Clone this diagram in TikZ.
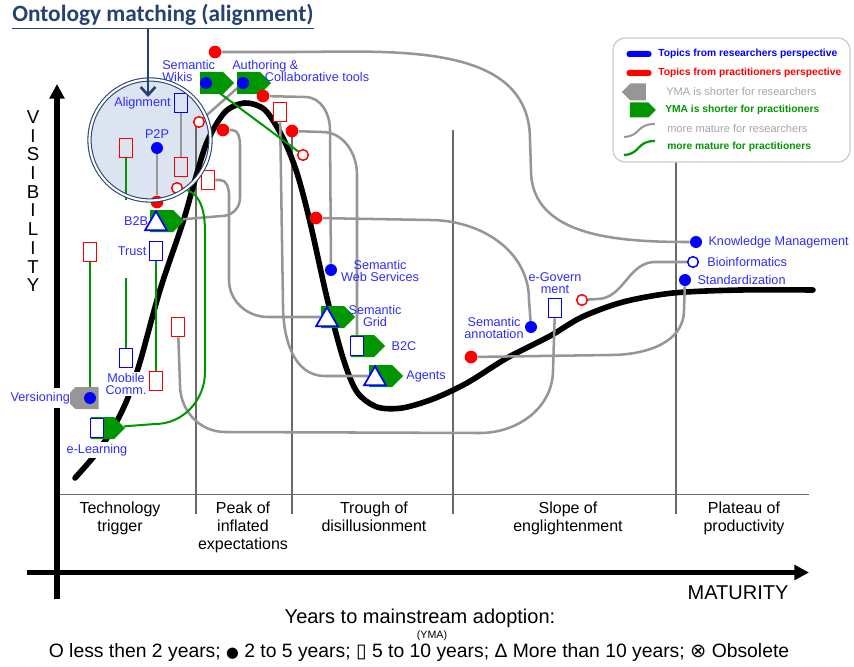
\documentclass[tikz,border=0pt]{standalone}
\usepackage{fontspec}
\setmainfont{Liberation Sans}
\newfontfamily\titlefont{Carlito}
\newfontfamily\symfont{DejaVu Sans}
\usetikzlibrary{positioning,shapes.geometric,shapes.symbols,arrows.meta}
\definecolor{tgreen}{RGB}{0,150,0}
\definecolor{lgray}{RGB}{150,150,150}
\definecolor{lblue}{RGB}{45,45,250}
\definecolor{titleblue}{RGB}{38,66,112}
\definecolor{circfill}{RGB}{220,228,241}
\definecolor{legborder}{RGB}{205,205,205}
\definecolor{ymagray}{RGB}{165,165,165}
\definecolor{sepgray}{RGB}{105,105,105}
\pgfdeclarelayer{bg}
\pgfsetlayers{bg,main}
\begin{document}
\begin{tikzpicture}[x=0.75pt,y=-0.75pt,
  lbl/.style={text=lblue, inner sep=0pt, font=\fontsize{9.5}{9}\selectfont},
  bdot/.style={circle, fill=blue, minimum size=9pt, inner sep=0pt},
  rdot/.style={circle, fill=red, minimum size=9.5pt, inner sep=0pt},
  rring/.style={circle, draw=red, fill=white, line width=1.1pt, minimum size=8pt, inner sep=0pt},
  bring/.style={rring, draw=blue},
  rbox/.style={rectangle, draw=red, fill=white, line width=1.1pt, minimum width=10pt, minimum height=14.5pt, inner sep=0pt},
  bbox/.style={rbox, draw=blue},
  btri/.style={regular polygon, regular polygon sides=3, draw=blue, fill=white, line width=1.3pt, minimum size=19pt, inner sep=0pt},
  tagG/.style={signal, signal to=east, fill=tgreen, minimum width=25.5pt, minimum height=16.5pt, inner sep=0pt},
  tagY/.style={signal, signal to=west, fill=lgray, minimum width=25.5pt, minimum height=16.5pt, inner sep=0pt},
  gline/.style={draw=lgray, line width=1.9pt},
  grline/.style={draw=tgreen, line width=1.5pt},
  sep/.style={draw=sepgray, line width=0.9pt},
  hype/.style={line width=4.2pt, line cap=round},
  axis/.style={line width=3.8pt, -{Triangle[length=11pt,width=11pt]}},
  phase/.style={anchor=north, align=center, inner sep=0pt, font=\fontsize{12}{13.5}\selectfont},
  axlbl/.style={inner sep=0pt, font=\fontsize{14}{14}\selectfont},
  legtxt/.style={anchor=west, inner sep=0pt, font=\fontsize{7.7}{8}\selectfont\bfseries},
  leggray/.style={anchor=west, inner sep=0pt, text=ymagray, font=\fontsize{8.3}{8.5}\selectfont},
  tarrow/.style={draw=titleblue, line width=2pt, -{Straight Barb[length=6pt,width=11pt]}}]
\useasboundingbox (0,0) rectangle (854,667);

% Fond du cercle, phases, courbe et axes
\begin{pgfonlayer}{bg}
\node[circle, fill=circfill, minimum size=90.75pt, inner sep=0pt] (circ) at (150,140) {};
\draw[sep] (57,494.5) -- (809,494.5);
\foreach \x/\y in {196/127, 292/136, 453/130, 676/162}
  \draw[sep] (\x,\y) -- (\x,514);
\draw[hype] plot[smooth] coordinates {(75,478) (95,455) (112,430) (127,400)
  (140,362) (160,290) (183,222) (195,180) (207,142) (225,112) (245,103)
  (265,110) (283,138) (297,173) (310,222) (327,298) (343,358) (357,392)
  (377,407) (402,408) (433,399) (467,383) (507,358) (550,336) (582,317)
  (623,302) (673,293) (740,290) (813,290)};
\draw[axis] (57,599) -- (57,84);
\draw[axis] (27,572.5) -- (809,572.5);
\end{pgfonlayer}

% Etiquettes des phases
\foreach \n/\x/\txt in {ph1/120/{Technology\\trigger}, ph2/243/{Peak of\\inflated\\expectations},
  ph3/374/{Trough of\\disillusionment}, ph4/568/{Slope of\\englightenment},
  ph5/744/{Plateau of\\productivity}}
  \node[phase] (\n) at (\x,501.5) {\txt};
\foreach \l [count=\i from 0] in {V,I,S,I,B,I,L,I,T,Y}
  \node[axlbl] (vis\i) at (33,117+18.7*\i) {\l};
\node[inner sep=0pt, font=\fontsize{15}{17}\selectfont] (mat) at (738,593) {MATURITY};

% Drapeaux
\foreach \n/\x/\y in {wk/206/83, au/243/83, b2b/156/221, el/97/428, gr/327/317, b2c/357/346, ag/375/376}
  \node[tagG] (\n) at (\x+5.5,\y) {};
\node[tagY] (ve) at (87,398) {};

% Sujets des chercheurs (bleu)
\foreach \n/\x/\y in {tr/156/251, mc/126/358, eg/555/308, elb/97/428, b2cb/357/346}
  \node[bbox] (\n) at (\x,\y) {};
\node[bbox, fill=none] (al) at (181,103) {};
\foreach \n/\x/\y in {p2p/157/148, sws/331/270, sa/531/327, km/696/242, st/685/280, wkd/206/83, aud/243/83, ved/90/398}
  \node[bdot] (\n) at (\x,\y) {};
\foreach \n/\x/\y in {b2bt/156/221, grt/327/317, agt/375/376}
  \node[btri] (\n) at (\x,\y+3) {};
\node[bring] (bi) at (693,262) {};

% Sujets des praticiens (rouge)
\foreach \n/\x/\y in {ra/215/52, rc/157/202, rh/223/130, ri/263/96, rk/292/131, rm/316/218, rq/471/357}
  \node[rdot] (\n) at (\x,\y) {};
\foreach \n/\x/\y in {rg/208/180, rj/280/112, rn/90/252, ro/156/381, rp/178/327}
  \node[rbox] (\n) at (\x,\y) {};
\node[rbox, fill=none] (rb) at (126,148) {};
\node[rbox, fill=none] (rd) at (181,167) {};
\foreach \n/\x/\y in {re/177/188, rf/199/122, rl/303/155, rr/582/300}
  \node[rring] (\n) at (\x,\y) {};
\coordinate (g2a) at (126,200);
\coordinate (g2b) at (126,278);

% Liens
\begin{pgfonlayer}{bg}
\draw[gline] (ra) -- (290,52) to[out=0,in=90] (530,140) -- (531,170) to[out=-90,in=180] (km);
\draw[gline] (aud) -- (rf);
\draw[gline] (al) -- (rd);
\draw[gline] (p2p) -- (rc);
\draw[gline] (rh) -- (232,130) to[out=0,in=90] (240,145) -- (240,198) to[out=-90,in=0] (222,216) -- (b2b);
\draw[gline] (rg) -- (220,180) to[out=0,in=90] (229,195) -- (229,280) to[out=-90,in=180] (268,317) -- (gr);
\draw[gline] (ri) -- (305,97) to[out=0,in=90] (330,130) -- (sws);
\draw[gline] (rj) -- (283,305) to[out=-90,in=180] (325,376) -- (ag);
\draw[gline] (rk) -- (322,132) to[out=0,in=90] (357,175) -- (b2cb);
\draw[gline] (rm) -- (430,220) to[out=0,in=90] (529,300) -- (sa);
\draw[gline] (rp) -- (180,385) to[out=-90,in=180] (225,432) -- (480,433) to[out=0,in=-90] (553,370) -- (eg);
\draw[gline] (rq) -- (610,355) to[out=0,in=-90] (684,310) -- (st);
\draw[gline] (rr) -- (597,299) to[out=0,in=180] (655,262) -- (bi);
\draw[grline] (wkd) -- (rl);
\draw[grline] (rb) -- (g2a);
\draw[grline] (g2b) -- (mc);
\draw[grline] (rn) -- (ved);
\draw[grline] (tr) -- (ro);
\draw[grline] (re) to[out=-10,in=90] (205,232) -- (205,372) to[out=-90,in=0] (155,424) -- (el);
\end{pgfonlayer}

% Noms des sujets
\node[lbl, left=2pt of al] (lal) {Alignment};
\node[lbl, above=2pt of p2p] (lp2p) {P2P};
\node[lbl, align=left, anchor=north west] (lwk) at (162,60.5) {Semantic\\Wikis};
\node[lbl, align=left, anchor=north west] (lau) at (232,60.5) {Authoring \&\\\hspace*{24.5pt}Collaborative tools};
\node[lbl, left=1pt of b2b] (lb2b) {B2B};
\node[lbl, left=1.5pt of tr] (ltr) {Trust};
\node[lbl, fill=white, inner sep=1pt, align=center, anchor=north] (lmc) at (126,372) {Mobile\\Comm.};
\node[lbl, fill=white, inner ysep=3pt, left=-4.5pt of ve] (lve) {Versioning};
\node[lbl, fill=white, inner sep=1.5pt, below=2.5pt of elb] (lel) {e-Learning};
\node[lbl, align=center, anchor=north] (lsws) at (380,260.5) {Semantic\\Web Services};
\node[lbl, align=center, anchor=north] (lgr) at (375,305.5) {Semantic\\Grid};
\node[lbl, right=4.5pt of b2c] (lb2c) {B2C};
\node[lbl, right=2pt of ag] (lag) {Agents};
\node[lbl, align=center, anchor=north] (lsa) at (494,317.5) {Semantic\\annotation};
\node[lbl, align=center, anchor=north] (legov) at (555,272.5) {e-Govern\\ment};
\node[lbl, right=4.5pt of km] (lkm) {Knowledge Management};
\node[lbl, right=6pt of bi] (lbi) {Bioinformatics};
\node[lbl, right=4.5pt of st] (lst) {Standardization};

% Anneau du cercle et titre
\node[circle, draw=titleblue, double=white, double distance=1.6pt, line width=0.8pt,
  minimum size=90.75pt, inner sep=0pt] (ring) at (circ) {};
\node[anchor=base west, inner sep=0pt, text=titleblue,
  font=\titlefont\bfseries\fontsize{17.5}{18}\selectfont] (ttl) at (12,22) {\underline{Ontology matching (alignment)}};
\coordinate (tip) at (148,97);
\draw[tarrow] (ttl.south -| tip) -- (tip);

% Legende
\node[draw=legborder, line width=1pt, rounded corners=9pt, minimum width=177.75pt,
  minimum height=93pt, inner sep=0pt] (legbox) at (731.5,100) {};
\node[fill=blue, rounded corners=2pt, minimum width=18.75pt, minimum height=4.5pt, inner sep=0pt] (legb) at (639,54) {};
\node[fill=red, rounded corners=2pt, minimum width=18.75pt, minimum height=4.5pt, inner sep=0pt] (legr) at (639,73) {};
\node[tagY, minimum width=18pt, minimum height=12.75pt] (legy) at (638,92) {};
\node[tagG, minimum width=19.5pt, minimum height=11.25pt] (legg) at (639,110) {};
\draw[gline, line width=1.5pt] (624,137) .. controls (641,136) and (636,124) .. (655,124);
\draw[grline, line width=1.7pt] (624,155) .. controls (641,154) and (636,141) .. (655,141);
\node[legtxt, text=blue] (lt1) at (658,54) {Topics from researchers perspective};
\node[legtxt, text=red] (lt2) at (658,73) {Topics from practitioners perspective};
\node[leggray] (lt3) at (666,92) {YMA is shorter for researchers};
\node[legtxt, text=tgreen] (lt4) at (665,110) {YMA is shorter for practitioners};
\node[leggray] (lt5) at (667,129) {more mature for researchers};
\node[legtxt, text=tgreen] (lt6) at (667,147) {more mature for practitioners};

% Annees jusqu'a l'adoption
\node[inner sep=0pt, font=\fontsize{15}{17}\selectfont] (ymt) at (420,618) {Years to mainstream adoption:};
\node[inner sep=0pt, font=\fontsize{8}{9}\selectfont] (ymab) at (432,636) {(YMA)};
\node[inner sep=0pt, font=\fontsize{14.5}{16}\selectfont] (key) at (419,652)
  {O less then 2 years; {\symfont\fontsize{11}{11}\selectfont ●} 2 to 5 years; {\symfont ▯} 5 to 10 years; Δ More than 10 years; {\symfont ⊗} Obsolete};
\end{tikzpicture}
\end{document}
